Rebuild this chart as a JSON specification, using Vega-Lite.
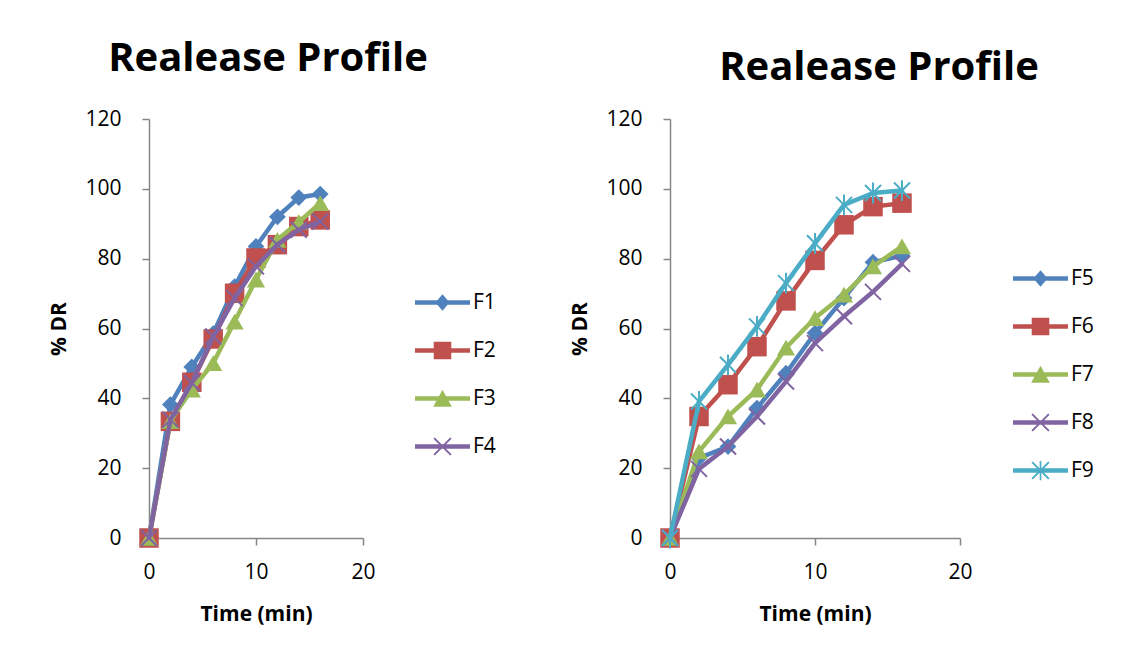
{
  "$schema": "https://vega.github.io/schema/vega-lite/v6.json",
  "background": "white",
  "padding": {"left": 48, "top": 39, "right": 5, "bottom": 12},
  "autosize": {"type": "pad"},
  "spacing": 73,
  "resolve": {"scale": {"color": "independent"}, "legend": {"color": "independent"}},
  "datasets": {
    "left": [
      {"formulation": "F1", "time": 0, "dr": 0}, {"formulation": "F1", "time": 2, "dr": 38.2}, {"formulation": "F1", "time": 4, "dr": 49}, {"formulation": "F1", "time": 6, "dr": 58.5}, {"formulation": "F1", "time": 8, "dr": 72}, {"formulation": "F1", "time": 10, "dr": 83.5}, {"formulation": "F1", "time": 12, "dr": 92}, {"formulation": "F1", "time": 14, "dr": 97.5}, {"formulation": "F1", "time": 16, "dr": 98.5},
      {"formulation": "F2", "time": 0, "dr": 0}, {"formulation": "F2", "time": 2, "dr": 33.4}, {"formulation": "F2", "time": 4, "dr": 44.6}, {"formulation": "F2", "time": 6, "dr": 57}, {"formulation": "F2", "time": 8, "dr": 70.1}, {"formulation": "F2", "time": 10, "dr": 80.2}, {"formulation": "F2", "time": 12, "dr": 84}, {"formulation": "F2", "time": 14, "dr": 89.2}, {"formulation": "F2", "time": 16, "dr": 91.1},
      {"formulation": "F3", "time": 0, "dr": 0}, {"formulation": "F3", "time": 2, "dr": 33.5}, {"formulation": "F3", "time": 4, "dr": 42.5}, {"formulation": "F3", "time": 6, "dr": 50.1}, {"formulation": "F3", "time": 8, "dr": 62}, {"formulation": "F3", "time": 10, "dr": 74}, {"formulation": "F3", "time": 12, "dr": 85.4}, {"formulation": "F3", "time": 14, "dr": 90.5}, {"formulation": "F3", "time": 16, "dr": 95.9},
      {"formulation": "F4", "time": 0, "dr": 0}, {"formulation": "F4", "time": 2, "dr": 33.9}, {"formulation": "F4", "time": 4, "dr": 44.4}, {"formulation": "F4", "time": 6, "dr": 57.7}, {"formulation": "F4", "time": 8, "dr": 68.7}, {"formulation": "F4", "time": 10, "dr": 77.8}, {"formulation": "F4", "time": 12, "dr": 84}, {"formulation": "F4", "time": 14, "dr": 88.3}, {"formulation": "F4", "time": 16, "dr": 90.6}
    ],
    "right": [
      {"formulation": "F5", "time": 0, "dr": 0}, {"formulation": "F5", "time": 2, "dr": 22.9}, {"formulation": "F5", "time": 4, "dr": 26.2}, {"formulation": "F5", "time": 6, "dr": 37.2}, {"formulation": "F5", "time": 8, "dr": 47.2}, {"formulation": "F5", "time": 10, "dr": 58.7}, {"formulation": "F5", "time": 12, "dr": 68.7}, {"formulation": "F5", "time": 14, "dr": 79}, {"formulation": "F5", "time": 16, "dr": 80.8},
      {"formulation": "F6", "time": 0, "dr": 0}, {"formulation": "F6", "time": 2, "dr": 34.8}, {"formulation": "F6", "time": 4, "dr": 43.9}, {"formulation": "F6", "time": 6, "dr": 54.8}, {"formulation": "F6", "time": 8, "dr": 67.9}, {"formulation": "F6", "time": 10, "dr": 79.5}, {"formulation": "F6", "time": 12, "dr": 89.7}, {"formulation": "F6", "time": 14, "dr": 94.9}, {"formulation": "F6", "time": 16, "dr": 95.9},
      {"formulation": "F7", "time": 0, "dr": 0}, {"formulation": "F7", "time": 2, "dr": 24.8}, {"formulation": "F7", "time": 4, "dr": 34.8}, {"formulation": "F7", "time": 6, "dr": 42.5}, {"formulation": "F7", "time": 8, "dr": 54.5}, {"formulation": "F7", "time": 10, "dr": 63}, {"formulation": "F7", "time": 12, "dr": 69.7}, {"formulation": "F7", "time": 14, "dr": 77.8}, {"formulation": "F7", "time": 16, "dr": 83.5},
      {"formulation": "F8", "time": 0, "dr": 0}, {"formulation": "F8", "time": 2, "dr": 19.8}, {"formulation": "F8", "time": 4, "dr": 26.2}, {"formulation": "F8", "time": 6, "dr": 34.8}, {"formulation": "F8", "time": 8, "dr": 44.8}, {"formulation": "F8", "time": 10, "dr": 55.8}, {"formulation": "F8", "time": 12, "dr": 63.5}, {"formulation": "F8", "time": 14, "dr": 70.5}, {"formulation": "F8", "time": 16, "dr": 78.5},
      {"formulation": "F9", "time": 0, "dr": 0}, {"formulation": "F9", "time": 2, "dr": 39.1}, {"formulation": "F9", "time": 4, "dr": 49.6}, {"formulation": "F9", "time": 6, "dr": 60.6}, {"formulation": "F9", "time": 8, "dr": 73}, {"formulation": "F9", "time": 10, "dr": 84.4}, {"formulation": "F9", "time": 12, "dr": 95.4}, {"formulation": "F9", "time": 14, "dr": 98.8}, {"formulation": "F9", "time": 16, "dr": 99.5}
    ]
  },
  "config": {
    "font": "Open Sans",
    "view": {"stroke": null},
    "axis": {
      "grid": false, "labelFlush": false,
      "domainColor": "#868686", "tickColor": "#868686", "domainWidth": 1.5, "tickWidth": 1.5, "tickSize": 7,
      "labelFont": "Open Sans", "labelFontSize": 21, "labelColor": "#000000",
      "titleFont": "Open Sans", "titleFontSize": 21, "titleFontWeight": "bold", "titleColor": "#000000"
    },
    "title": {"font": "Open Sans", "fontSize": 40, "fontWeight": "bold", "color": "#000000"},
    "legend": {"labelFont": "Open Sans", "labelFontSize": 21, "labelColor": "#000000", "padding": 0, "symbolSize": 3025, "rowPadding": 10, "labelOffset": 3}
  },
  "hconcat": [
    {
      "width": 214, "height": 419,
      "data": {"name": "left"},
      "title": {"text": "Realease Profile", "anchor": "middle", "frame": "group", "dx": 12, "offset": 29},
      "encoding": {
        "x": {"field": "time", "type": "quantitative", "scale": {"domain": [0, 20], "nice": false}, "axis": {"values": [0, 10, 20], "title": "Time (min)", "labelPadding": 16, "titlePadding": 21}},
        "y": {"field": "dr", "type": "quantitative", "scale": {"domain": [0, 120], "nice": false}, "axis": {"values": [0, 20, 40, 60, 80, 100, 120], "title": "% DR", "labelPadding": 21, "titlePadding": 15}},
        "color": {"field": "formulation", "type": "nominal",
          "scale": {"domain": ["F1", "F2", "F3", "F4"], "range": ["#4F81BD", "#C0504D", "#9BBB59", "#8064A2"]},
          "legend": {"title": null, "orient": "none", "legendX": 266, "legendY": 156,
            "encode": {"symbols": {"update": {
              "shape": {"signal": "datum.value==='F1'?'M-1,-0.08H1V0.08H-1Z M0,-0.3L0.26,0L0,0.3L-0.26,0Z':datum.value==='F2'?'M-1,-0.08H1V0.08H-1Z M-0.32,-0.32H0.32V0.32H-0.32Z':datum.value==='F3'?'M-1,-0.08H1V0.08H-1Z M0,-0.32L0.34,0.3H-0.34Z':'M-1,-0.08H1V0.08H-1Z M-0.33,-0.28L-0.28,-0.33L0.33,0.28L0.28,0.33Z M0.28,-0.33L0.33,-0.28L-0.28,0.33L-0.33,0.28Z'"},
              "fill": {"signal": "datum.value==='F1'?'#4F81BD':datum.value==='F2'?'#C0504D':datum.value==='F3'?'#9BBB59':'#8064A2'"},
              "stroke": {"value": "transparent"}, "strokeWidth": {"value": 0}, "opacity": {"value": 1}
            }}}
          }
        }
      },
      "layer": [
        {"transform": [{"filter": "datum.formulation==='F1'"}], "mark": {"type": "line", "strokeWidth": 4.5, "strokeJoin": "round", "strokeCap": "round", "point": {"shape": "diamond", "size": 280, "filled": true, "opacity": 1}}},
        {"transform": [{"filter": "datum.formulation==='F2'"}], "mark": {"type": "line", "strokeWidth": 4.5, "strokeJoin": "round", "strokeCap": "round", "point": {"shape": "square", "size": 380, "filled": true, "opacity": 1}}},
        {"transform": [{"filter": "datum.formulation==='F3'"}], "mark": {"type": "line", "strokeWidth": 4.5, "strokeJoin": "round", "strokeCap": "round", "point": {"shape": "triangle-up", "size": 330, "filled": true, "opacity": 1}}},
        {"transform": [{"filter": "datum.formulation==='F4'"}], "mark": {"type": "line", "strokeWidth": 4.5, "strokeJoin": "round", "strokeCap": "round", "point": {"shape": "M-1,-1L1,1M-1,1L1,-1", "size": 256, "filled": false, "strokeWidth": 2, "opacity": 1}}}
      ]
    },
    {
      "width": 290, "height": 419,
      "data": {"name": "right"},
      "title": {"text": "Realease Profile", "anchor": "middle", "frame": "group", "dx": 64, "dy": 9, "offset": 29},
      "encoding": {
        "x": {"field": "time", "type": "quantitative", "scale": {"domain": [0, 20], "nice": false}, "axis": {"values": [0, 10, 20], "title": "Time (min)", "labelPadding": 16, "titlePadding": 21}},
        "y": {"field": "dr", "type": "quantitative", "scale": {"domain": [0, 120], "nice": false}, "axis": {"values": [0, 20, 40, 60, 80, 100, 120], "title": "% DR", "labelPadding": 21, "titlePadding": 15}},
        "color": {"field": "formulation", "type": "nominal",
          "scale": {"domain": ["F5", "F6", "F7", "F8", "F9"], "range": ["#4F81BD", "#C0504D", "#9BBB59", "#8064A2", "#4BACC6"]},
          "legend": {"title": null, "orient": "none", "legendX": 343, "legendY": 132,
            "encode": {"symbols": {"update": {
              "shape": {"signal": "datum.value==='F5'?'M-1,-0.08H1V0.08H-1Z M0,-0.3L0.26,0L0,0.3L-0.26,0Z':datum.value==='F6'?'M-1,-0.08H1V0.08H-1Z M-0.32,-0.32H0.32V0.32H-0.32Z':datum.value==='F7'?'M-1,-0.08H1V0.08H-1Z M0,-0.32L0.34,0.3H-0.34Z':datum.value==='F8'?'M-1,-0.08H1V0.08H-1Z M-0.33,-0.28L-0.28,-0.33L0.33,0.28L0.28,0.33Z M0.28,-0.33L0.33,-0.28L-0.28,0.33L-0.33,0.28Z':'M-1,-0.08H1V0.08H-1Z M-0.33,-0.28L-0.28,-0.33L0.33,0.28L0.28,0.33Z M0.28,-0.33L0.33,-0.28L-0.28,0.33L-0.33,0.28Z M-0.03,-0.35H0.03V0.35H-0.03Z'"},
              "fill": {"signal": "datum.value==='F5'?'#4F81BD':datum.value==='F6'?'#C0504D':datum.value==='F7'?'#9BBB59':datum.value==='F8'?'#8064A2':'#4BACC6'"},
              "stroke": {"value": "transparent"}, "strokeWidth": {"value": 0}, "opacity": {"value": 1}
            }}}
          }
        }
      },
      "layer": [
        {"transform": [{"filter": "datum.formulation==='F5'"}], "mark": {"type": "line", "strokeWidth": 4.5, "strokeJoin": "round", "strokeCap": "round", "point": {"shape": "diamond", "size": 280, "filled": true, "opacity": 1}}},
        {"transform": [{"filter": "datum.formulation==='F6'"}], "mark": {"type": "line", "strokeWidth": 4.5, "strokeJoin": "round", "strokeCap": "round", "point": {"shape": "square", "size": 380, "filled": true, "opacity": 1}}},
        {"transform": [{"filter": "datum.formulation==='F7'"}], "mark": {"type": "line", "strokeWidth": 4.5, "strokeJoin": "round", "strokeCap": "round", "point": {"shape": "triangle-up", "size": 330, "filled": true, "opacity": 1}}},
        {"transform": [{"filter": "datum.formulation==='F8'"}], "mark": {"type": "line", "strokeWidth": 4.5, "strokeJoin": "round", "strokeCap": "round", "point": {"shape": "M-1,-1L1,1M-1,1L1,-1", "size": 256, "filled": false, "strokeWidth": 2, "opacity": 1}}},
        {"transform": [{"filter": "datum.formulation==='F9'"}], "mark": {"type": "line", "strokeWidth": 4.5, "strokeJoin": "round", "strokeCap": "round", "point": {"shape": "M-1,-1L1,1M-1,1L1,-1M0,-1.3L0,1.3", "size": 256, "filled": false, "strokeWidth": 2, "opacity": 1}}}
      ]
    }
  ]
}
